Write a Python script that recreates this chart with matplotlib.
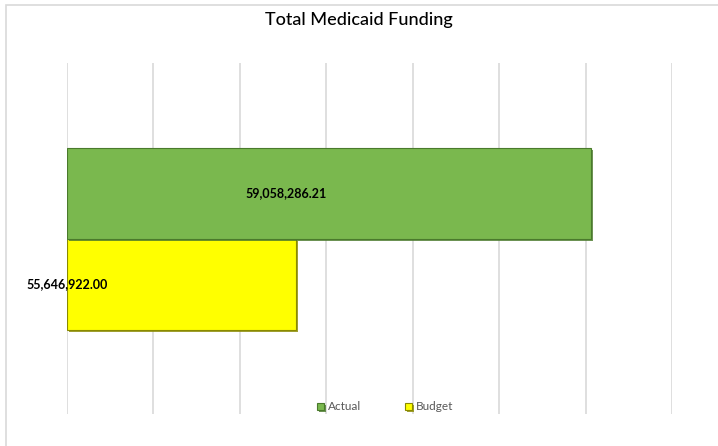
import matplotlib
matplotlib.use("Agg")
import matplotlib.pyplot as plt
import matplotlib.patheffects as pe
from matplotlib.patches import Rectangle

plt.rcParams['font.family'] = ['Lato', 'DejaVu Sans']

series = ['Budget', 'Actual']
values = [55646922.00, 59058286.21]
labels = ['55,646,922.00', '59,058,286.21']
colors = ['#FFFF00', '#7AB84E']
edges = ['#8A8A00', '#4A7A2C']
label_x = [53000000, 55540000]

fig = plt.figure(figsize=(7.18, 4.46), dpi=100)
fig.patches.append(Rectangle((6 / 718, -0.1), 1.2, 1.1 - 5 / 446, transform=fig.transFigure,
                             fill=False, edgecolor='#D9D9D9', linewidth=1.2))
ax = fig.add_axes([67 / 718, 1 - 414 / 446, (672 - 67) / 718, (414 - 63) / 446])

xmin = 53000000
for i in range(len(series)):
    b = ax.barh(i, values[i] - xmin, left=xmin, height=1.0, color=colors[i],
                edgecolor=edges[i], linewidth=0.8, label=series[i], zorder=3)
    b[0].set_path_effects([pe.SimplePatchShadow(offset=(1.5, -1.5), shadow_rgbFace=edges[i], alpha=0.8),
                           pe.Normal()])
    ax.text(label_x[i], i, labels[i], ha='center', va='center', fontsize=9,
            fontweight='bold', color='black', zorder=5)

ax.set_xlim(53000000, 60000000)
ax.set_ylim(-1.42, 2.43)
ax.set_xticks(range(53000000, 60000001, 1000000))
ax.set_yticks([])
ax.tick_params(axis='x', length=0, labelbottom=False)
ax.grid(axis='x', color='#D9D9D9', linewidth=1.2, zorder=0)
for s in ax.spines.values():
    s.set_visible(False)

fig.text(0.5, 1 - 20 / 446, 'Total Medicaid Funding', ha='center', va='center',
         fontsize=13, color='black', fontweight='medium')

h, l = ax.get_legend_handles_labels()
fig.legend(h[::-1], l[::-1], loc='center', bbox_to_anchor=(385 / 718, 1 - 407 / 446), ncol=2,
           frameon=False, fontsize=8.5, labelcolor='#595959', handlelength=0.6, handleheight=0.6,
           handletextpad=0.3, columnspacing=3.7)

fig.savefig('out.png', dpi=100)
